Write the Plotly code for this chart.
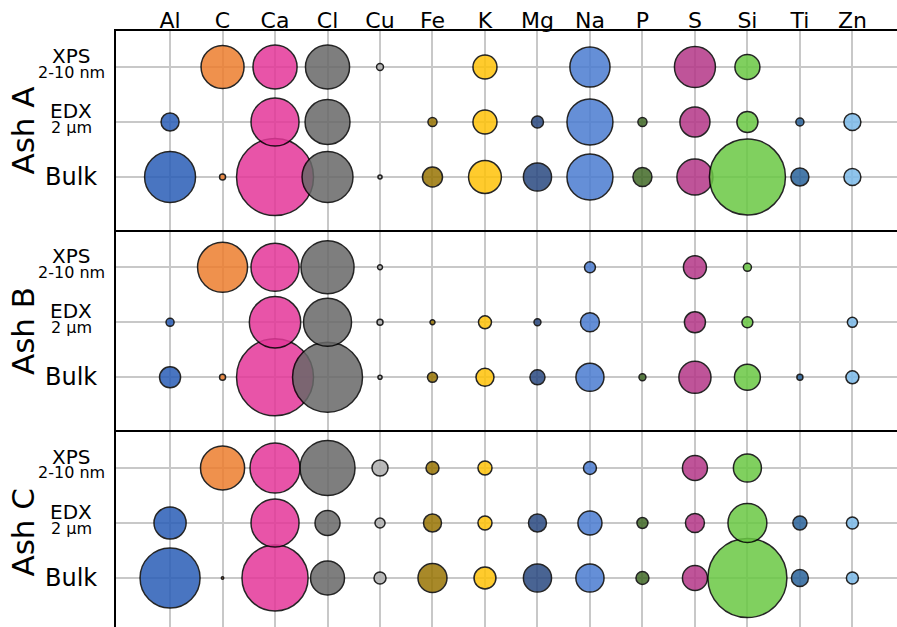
import plotly.graph_objects as go

# Elements (columns) and measurement depth (rows, bottom to top)
ELEMENTS = ["Al", "C", "Ca", "Cl", "Cu", "Fe", "K", "Mg", "Na", "P", "S", "Si", "Ti", "Zn"]
ROWS = ["Bulk", "EDX", "XPS"]
ASHES = ["Ash A", "Ash B", "Ash C"]

# Relative concentrations per ash and technique (None = not detected)
ASH_A_XPS = [None, 7.7, 8.1, 8.1, 0.2, None, 2.4, None, 6.7, None, 7.0, 2.6, None, None]
ASH_A_EDX = [1.35, None, 9.6, 8.4, None, 0.34, 2.4, 0.6, 8.8, 0.34, 3.75, 1.84, 0.27, 1.2]
ASH_A_BULK = [10.8, 0.15, 24.7, 10.8, 0.07, 1.67, 4.5, 3.3, 8.8, 1.5, 5.4, 24.1, 1.35, 1.2]

ASH_B_XPS = [None, 10.4, 9.6, 11.7, 0.1, None, None, None, 0.5, None, 2.2, 0.27, None, None]
ASH_B_EDX = [0.27, None, 11.0, 9.6, 0.15, 0.1, 0.7, 0.2, 1.5, None, 1.84, 0.5, None, 0.42]
ASH_B_BULK = [1.84, 0.15, 24.7, 20.4, 0.07, 0.42, 1.35, 0.94, 3.27, 0.2, 4.3, 2.8, 0.15, 0.7]

ASH_C_XPS = [None, 8.1, 10.4, 12.6, 1.07, 0.7, 0.82, None, 0.7, None, 2.6, 3.27, None, None]
ASH_C_EDX = [4.3, None, 9.6, 2.6, 0.42, 1.35, 0.82, 1.35, 2.4, 0.5, 1.5, 6.3, 0.82, 0.6]
ASH_C_BULK = [15.0, 0.02, 18.2, 4.8, 0.6, 3.5, 2.0, 3.3, 3.3, 0.7, 2.6, 26.0, 1.2, 0.6]

ELEMENT_COLORS = ["#2a5eb7", "#ed7e2f", "#e43799", "#686868", "#afafaf", "#997504", "#ffc309",
                  "#2a4981", "#4b7cd1", "#426a28", "#b53788", "#6ac844", "#2a639b", "#7cbae9"]

PANELS = [
    (ASH_A_BULK, ASH_A_EDX, ASH_A_XPS),
    (ASH_B_BULK, ASH_B_EDX, ASH_B_XPS),
    (ASH_C_BULK, ASH_C_EDX, ASH_C_XPS),
]

FONT = "DejaVu Sans"
W, H = 897, 627
ML, MT = 116, 31
PLOT_H = H - MT

fig = go.Figure()

for p, rows in enumerate(PANELS):
    xs, ys, vals, cols = [], [], [], []
    for r, row_vals in enumerate(rows):
        for e, v in enumerate(row_vals):
            if v is None:
                continue
            xs.append(e)
            ys.append(r)
            vals.append(v)
            cols.append(ELEMENT_COLORS[e])
    suffix = "" if p == 0 else str(p + 1)
    fig.add_trace(go.Scatter(
        x=xs, y=ys, mode="markers",
        xaxis="x" + suffix, yaxis="y" + suffix,
        marker=dict(size=vals, sizemode="area", sizeref=1 / 120, sizemin=1.2,
                    color=cols, opacity=0.85,
                    line=dict(color="black", width=1.5)),
        showlegend=False, hoverinfo="skip", cliponaxis=False,
    ))

# panel boundaries in pixels (top, bottom)
panel_px = [(31, 231.5), (231.5, 432), (432, 627)]
row_top_px = [67, 267.3, 468]   # pixel of XPS row in each panel
PX_PER_ROW = 55.0

layout = dict(
    width=W, height=H,
    margin=dict(l=ML, r=0, t=MT, b=0, pad=0),
    paper_bgcolor="white", plot_bgcolor="white",
    font=dict(family=FONT, color="black"),
)

annotations = []
for p in range(3):
    suffix = "" if p == 0 else str(p + 1)
    top, bot = panel_px[p]
    d0 = (H - bot) / PLOT_H
    d1 = (H - top) / PLOT_H
    ytop = 2 + (row_top_px[p] - top) / PX_PER_ROW
    ybot = ytop - (bot - top) / PX_PER_ROW
    layout["yaxis" + suffix] = dict(
        domain=[max(d0, 0), min(d1, 1)], range=[ybot, ytop],
        tickvals=[0, 1, 2], showticklabels=False, ticks="",
        showgrid=True, gridcolor="#c8c8c8", gridwidth=2, zeroline=False,
        showline=True, linecolor="black", linewidth=2,
        anchor="x" + suffix, fixedrange=True,
    )
    layout["xaxis" + suffix] = dict(
        range=[-1.03, 13.85], tickvals=list(range(len(ELEMENTS))),
        ticktext=ELEMENTS, showticklabels=(p == 0), side="top", ticks="",
        tickfont=dict(size=22, family=FONT, color="black"),
        showgrid=True, gridcolor="#c8c8c8", gridwidth=2, zeroline=False,
        showline=True, linecolor="black", linewidth=2,
        anchor="y" + suffix, fixedrange=True,
        ticklabelstandoff=-8,
    )
    if p > 0:
        layout["xaxis" + suffix]["matches"] = "x"

    yref = "y" + suffix
    lab_x = (71 - ML) / (W - ML)
    # row labels: method name with its probing depth underneath
    annotations += [
        dict(text="XPS", x=lab_x, y=2, xref="paper", yref=yref, xanchor="center", yanchor="middle",
             yshift=11, showarrow=False, font=dict(size=20, family=FONT)),
        dict(text="2-10 nm", x=lab_x, y=2, xref="paper", yref=yref, xanchor="center", yanchor="middle",
             yshift=-5, showarrow=False, font=dict(size=16, family=FONT)),
        dict(text="EDX", x=lab_x, y=1, xref="paper", yref=yref, xanchor="center", yanchor="middle",
             yshift=11, showarrow=False, font=dict(size=20, family=FONT)),
        dict(text="2 µm", x=lab_x, y=1, xref="paper", yref=yref, xanchor="center", yanchor="middle",
             yshift=-5, showarrow=False, font=dict(size=16, family=FONT)),
        dict(text="Bulk", x=lab_x, y=0, xref="paper", yref=yref, xanchor="center", yanchor="middle",
             showarrow=False, font=dict(size=24, family=FONT)),
    ]
    # ash name, rotated
    annotations.append(dict(
        text=ASHES[p], x=(22.5 - ML) / (W - ML), y=(H - (top + 100)) / PLOT_H,
        xref="paper", yref="paper", xanchor="center", yanchor="middle", textangle=-90,
        showarrow=False, font=dict(size=31, family=FONT),
    ))

layout["annotations"] = annotations
fig.update_layout(**layout)

fig.write_html("out.html")
